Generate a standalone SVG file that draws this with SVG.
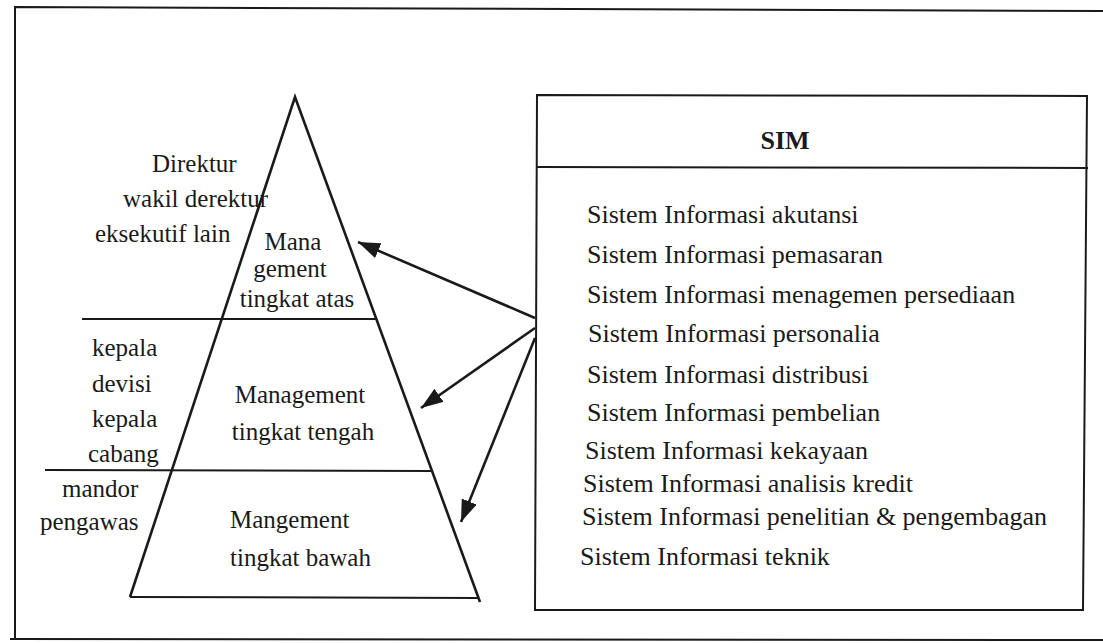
<svg xmlns="http://www.w3.org/2000/svg" width="1103" height="643" viewBox="0 0 1103 643">
<defs>
<style>
.t{font-family:"Liberation Serif","Times New Roman",serif;font-size:25px;fill:#1a1a1a}
.s{font-size:26px}
.c{text-anchor:middle}
.b{font-weight:bold}
.ln{stroke:#1a1a1a;fill:none;stroke-width:2}
.pl{stroke:#1a1a1a;fill:none;stroke-width:2.6}
.ar{stroke:#1a1a1a;fill:none;stroke-width:2.6}
</style>
<marker id="ah" viewBox="0 0 22 16" refX="22" refY="8" markerWidth="22" markerHeight="16" markerUnits="userSpaceOnUse" orient="auto">
<path d="M0,0 L22,8 L0,16 Z" fill="#1a1a1a"/>
</marker>
</defs>
<rect width="1103" height="643" fill="#ffffff"/>
<g id="frame">
<path class="ln" d="M15,640 L15,7 L1103,11"/>
<path class="ln" d="M10,639 L1103,640"/>
</g>
<g id="pyramid">
<path class="pl" d="M130,597 L295,97 L480,602"/>
<path class="ln" d="M130,597 L478,598"/>
<path class="ln" d="M82,319 L376,319"/>
<path class="ln" d="M45,470 L431,471"/>
</g>
<g id="top-level">
<text class="t" x="152" y="172">Direktur</text>
<text class="t" x="123" y="207">wakil derektur</text>
<text class="t" x="95" y="242">eksekutif lain</text>
<text class="t c" x="293" y="250">Mana</text>
<text class="t c" x="290" y="277">gement</text>
<text class="t c" x="297" y="307">tingkat atas</text>
</g>
<g id="middle-level">
<text class="t" x="92" y="356">kepala</text>
<text class="t" x="92" y="392">devisi</text>
<text class="t" x="92" y="427">kepala</text>
<text class="t" x="88" y="462">cabang</text>
<text class="t c" x="300" y="403">Management</text>
<text class="t c" x="303" y="440">tingkat tengah</text>
</g>
<g id="lower-level">
<text class="t" x="62" y="497">mandor</text>
<text class="t" x="40" y="530">pengawas</text>
<text class="t" x="230" y="528">Mangement</text>
<text class="t" x="230" y="566">tingkat bawah</text>
</g>
<g id="sim">
<path class="ln" d="M537,95 L1087,96 L1083,610 L535,610 Z"/>
<path class="ln" d="M537,167 L1088,168"/>
<text class="t s c b" x="785" y="149">SIM</text>
<text class="t s" x="587" y="223">Sistem Informasi akutansi</text>
<text class="t s" x="587" y="263">Sistem Informasi pemasaran</text>
<text class="t s" x="587" y="303">Sistem Informasi menagemen persediaan</text>
<text class="t s" x="588" y="342">Sistem Informasi personalia</text>
<text class="t s" x="587" y="383">Sistem Informasi distribusi</text>
<text class="t s" x="587" y="421">Sistem Informasi pembelian</text>
<text class="t s" x="585" y="459">Sistem Informasi kekayaan</text>
<text class="t s" x="583" y="492">Sistem Informasi analisis kredit</text>
<text class="t s" x="582" y="525">Sistem Informasi penelitian &amp; pengembagan</text>
<text class="t s" x="580" y="565">Sistem Informasi teknik</text>
</g>
<g id="connectors">
<line class="ar" x1="535" y1="318" x2="358" y2="242" marker-end="url(#ah)"/>
<line class="ar" x1="535" y1="328" x2="421" y2="408" marker-end="url(#ah)"/>
<line class="ar" x1="535" y1="338" x2="461" y2="522" marker-end="url(#ah)"/>
</g>
</svg>
